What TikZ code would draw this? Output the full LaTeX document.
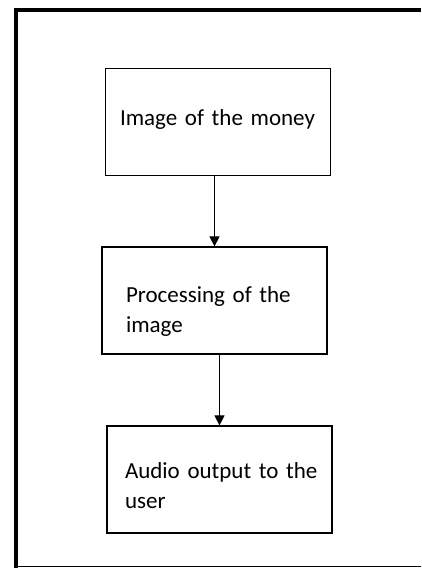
\documentclass[tikz,border=0pt]{standalone}
\usepackage{fontspec}
\setmainfont{Carlito}
\usetikzlibrary{arrows.meta}

\newcommand\boxfont{\fontsize{23}{30}\selectfont\spaceskip=4pt\relax}

\tikzset{
  box/.style={draw, line width=1.2pt, inner sep=0pt, minimum width=225pt, minimum height=107pt,
    align=left, font=\boxfont},
  flow/.style={-{Triangle[length=10pt,width=10pt]}, line width=1pt}
}

\begin{document}
\begin{tikzpicture}[x=1pt, y=-1pt]
            \useasboundingbox (0,0) rectangle (421,568);

            % Frame
            \draw[line width=4pt] (16,568) -- (16,10) -- (421,10);
            \draw[line width=1.3pt] (16,566.5) -- (421,566.5);

            % Nodes
            \node[box, text width=196pt, text height=12pt, text depth=4.6pt] (img) at (218,122)
                {\mbox{Image of the money}};
            \node[box, text width=177pt, text height=12pt, text depth=7.6pt] (proc) at (214.5,300.5)
                {\mbox{Processing of the}\\image};
            \node[box, text width=189pt, text height=10pt, text depth=12.4pt] (audio) at (219.5,479.5)
                {\mbox{Audio output to the}\\user};

            % Arrows
            \draw[flow] (img.south -| proc.north) -- (proc.north);
            \draw[flow] (proc.south -| audio.north) -- (audio.north);
\end{tikzpicture}
\end{document}
